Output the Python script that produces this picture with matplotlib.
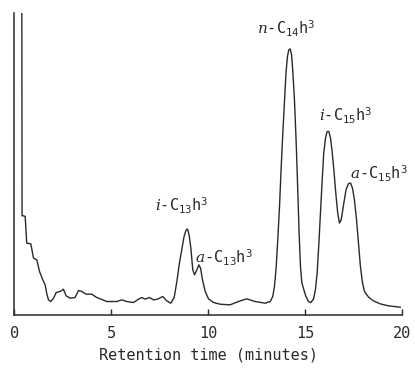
"""Gas chromatogram of the hydrocarbon fraction"""
import matplotlib
matplotlib.use('Agg')
import matplotlib.pyplot as plt

plt.rcParams['font.family'] = 'DejaVu Sans Mono'
plt.rcParams['mathtext.fontset'] = 'custom'
plt.rcParams['mathtext.rm'] = 'DejaVu Sans Mono'
plt.rcParams['mathtext.it'] = 'DejaVu Serif:italic'

# retention time (minutes) and detector response (arbitrary units)
time_min = [
    0.36, 0.41, 0.48, 0.57, 0.65, 0.86, 1.00, 1.17, 1.31, 1.48, 1.60, 1.68,
    1.77, 1.89, 2.03, 2.17, 2.37, 2.54, 2.68, 2.89, 3.14, 3.32, 3.49, 3.71,
    4.00, 4.26, 4.78, 5.29, 5.55, 5.81, 6.15, 6.41, 6.58, 6.75, 6.98, 7.18,
    7.39, 7.66, 7.87, 8.08, 8.25, 8.39, 8.52, 8.64, 8.76, 8.87, 8.94, 9.02,
    9.11, 9.21, 9.30, 9.42, 9.52, 9.61, 9.71, 9.85, 10.02, 10.28, 10.62,
    11.13, 11.56, 11.99, 12.42, 12.94, 13.20, 13.33, 13.42, 13.51, 13.59,
    13.68, 13.76, 13.85, 13.94, 14.02, 14.09, 14.16, 14.23, 14.30, 14.36,
    14.45, 14.54, 14.62, 14.69, 14.76, 14.83, 14.91, 15.03, 15.17, 15.29,
    15.43, 15.53, 15.62, 15.70, 15.79, 15.88, 15.96, 16.05, 16.13, 16.22,
    16.31, 16.39, 16.48, 16.58, 16.68, 16.77, 16.86, 16.98, 17.11, 17.23,
    17.34, 17.44, 17.54, 17.65, 17.75, 17.85, 17.96, 18.06, 18.27, 18.52,
    18.87, 19.30, 19.90,
]
response = [
    3000, 297, 297, 295, 215, 213, 170, 165, 130, 105, 90, 65,
    45, 40, 50, 67, 70, 77, 57, 50, 52, 73, 70, 62,
    62, 52, 40, 40, 45, 40, 37, 47, 52, 47, 52, 45,
    47, 55, 42, 35, 52, 100, 155, 195, 235, 255, 257, 240,
    200, 135, 120, 135, 150, 140, 105, 70, 48, 37, 32,
    30, 40, 48, 40, 35, 40, 55, 85, 145, 225,
    325, 435, 545, 645, 730, 775, 795, 797, 780, 735,
    645, 515, 375, 245, 145, 97, 80, 57, 40, 37,
    47, 75, 125, 205, 305, 405, 485, 530, 549, 550,
    530, 490, 435, 365, 305, 275, 285, 330, 375, 393,
    395, 380, 345, 285, 215, 145, 95, 70, 53, 42,
    33, 27, 23,
]

peak_labels = [
    r'$\mathit{i}$-C$_{13}$h$^{3}$',
    r'$\mathit{a}$-C$_{13}$h$^{3}$',
    r'$\mathit{n}$-C$_{14}$h$^{3}$',
    r'$\mathit{i}$-C$_{15}$h$^{3}$',
    r'$\mathit{a}$-C$_{15}$h$^{3}$',
]
label_time = [8.64, 9.33, 14.05, 17.1, 17.29]
label_height = [310, 155, 840, 580, 405]
label_align = ['center', 'left', 'center', 'center', 'left']

time_ticks = [0, 5, 10, 15, 20]


def main():
    """Main"""
    fig = plt.figure(figsize=(4.15, 3.7), dpi=100, facecolor='white')
    ax = fig.add_axes([0.034, 0.149, 0.935, 0.816])

    ax.plot(time_min, response, color='#2a2a2a', lw=1.0)

    for text, t, h, ha in zip(peak_labels, label_time, label_height,
                              label_align):
        ax.text(t, h, text, ha=ha, va='baseline', fontsize=11,
                color='#2a2a2a', clip_on=False)

    ax.set_xlim(0, 20)
    ax.set_ylim(0, 905)
    ax.set_xticks(time_ticks)
    ax.set_yticks([])
    ax.tick_params(axis='x', direction='in', length=4.5, width=1,
                   pad=8, labelsize=11, colors='#2a2a2a')
    ax.set_xlabel('Retention time (minutes)', fontsize=11,
                  color='#2a2a2a', labelpad=5)

    for side in ('top', 'right'):
        ax.spines[side].set_visible(False)
    for side in ('left', 'bottom'):
        ax.spines[side].set_linewidth(1.1)
        ax.spines[side].set_color('#2a2a2a')

    fig.savefig('out.png', dpi=100)


if __name__ == '__main__':
    main()
